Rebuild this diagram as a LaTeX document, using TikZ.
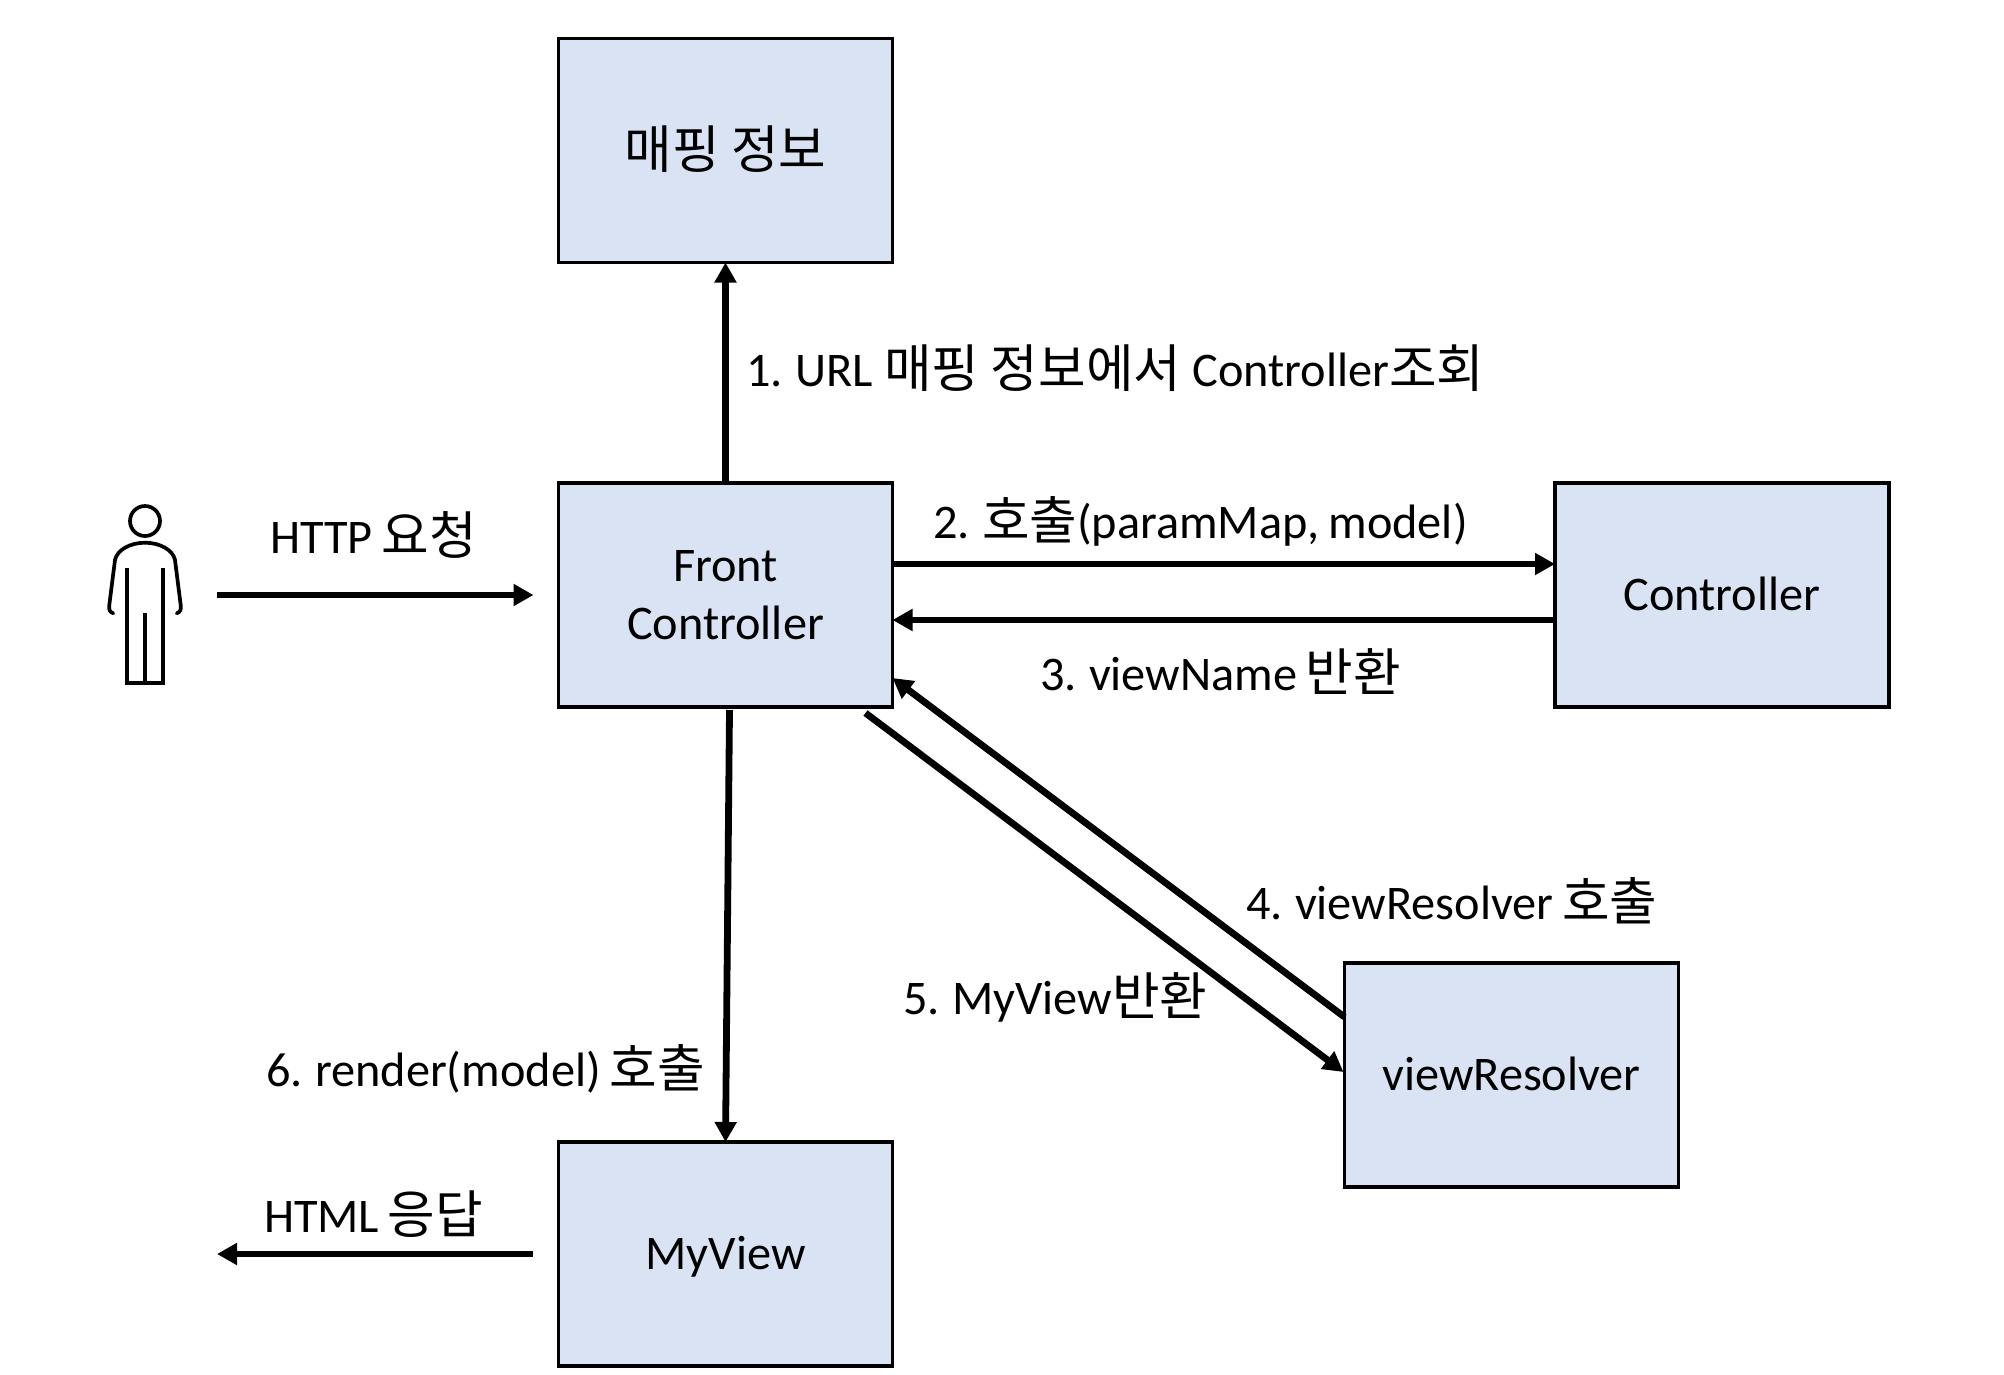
\documentclass[tikz,border=0pt]{standalone}
\usepackage{fontspec}
\setmainfont[WordSpace=0.8]{Carlito}
\newfontfamily\krf{Noto Sans CJK KR}
\usetikzlibrary{arrows.meta}
\newcommand{\kr}[1]{\raisebox{-1.5pt}{\krf\fontsize{51.7}{58}\selectfont #1}}
\definecolor{boxfill}{HTML}{DAE3F3}
\tikzset{
  box/.style={draw=black,fill=boxfill,line width=3.2pt,minimum width=334pt,minimum height=224pt,inner sep=0pt,outer sep=0pt,align=center,text height=38pt,text depth=8pt,font=\fontsize{48.3}{58}\selectfont},
  lbl/.style={anchor=base west,inner sep=0pt,outer sep=0pt,font=\fontsize{48.3}{58}\selectfont},
  conn/.style={line width=6.8pt,-{Triangle[length=20pt,width=21pt]},shorten >=0pt},
  figure/.style={line width=3.7pt,line cap=round,line join=round},
  figureb/.style={line width=3.7pt,line cap=butt,line join=miter}
}
\begin{document}
\begin{tikzpicture}[x=1pt,y=-1pt]
\useasboundingbox (0,0) rectangle (2004,1374);
\fill[white] (0,0) rectangle (2004,1374);
\node[box,text height=44pt] (map) at (725.5,150.5) {{\krf\fontsize{51.7}{58}\selectfont 매핑 정보}};
\node[box,text height=,text depth=] (front) at (725.5,595) {Front\\Controller};
\node[box] (ctrl) at (1722,595) {Controller};
\node[box] (vr) at (1511.5,1075) {viewResolver};
\node[box] (view) at (725.5,1254) {MyView};
\coordinate (reqstart) at (217,595);
\coordinate (respend) at (217,1254);
\draw[conn] (front.north) -- (map.south);
\draw[conn] ([yshift=31pt]front.east) -- ([yshift=31pt]ctrl.west);
\draw[conn] ([yshift=-25pt]ctrl.west) -- ([yshift=-25pt]front.east);
\draw[conn] ([yshift=58pt]vr.west) -- ([yshift=29pt]front.south east);
\draw[conn] ([xshift=-27pt,yshift=-6pt]front.south east) -- ([xshift=-1pt,yshift=3pt]vr.west);
\draw[conn] ([xshift=4pt,yshift=-3pt]front.south) -- (view.north);
\draw[conn] (reqstart) -- ([xshift=-25pt]front.west);
\draw[conn] ([xshift=-26pt]view.west) -- (respend);
\node[lbl] (l1) at (746,386) {1. URL\kern3pt{} \kr{매핑 정보에서}\kern2.5pt{} Controller\kr{조회}};
\node[lbl] (l2) at (933,538) {2. \kr{호출}(paramMap, model)};
\node[lbl] (l3) at (1040,690) {3. viewName \kr{반환}};
\node[lbl] (l4) at (1246,919) {4. viewResolver \kr{호출}};
\node[lbl] (l5) at (903,1014) {5. MyView\kr{반환}};
\node[lbl] (l6) at (266,1086) {6. render(model) \kr{호출}};
\node[lbl] (l7) at (270,553) {HTTP \kr{요청}};
\node[lbl] (l8) at (264,1232) {HTML \kr{응답}};
% person
\draw[figure] (145,521) circle (15);
\draw[figure] (113.3,613.3) .. controls (110,612) and (108.5,610) .. (109.3,605) -- (115,560) .. controls (117,550) and (130,542.7) .. (145,542.7) .. controls (160,542.7) and (173,550) .. (175,560) -- (180.7,605) .. controls (181.5,610) and (180,612) .. (176.7,613.3);
\draw[figureb] (127,568) -- (127,682.7) -- (163,682.7) -- (163,568);
\draw[figureb] (145,613.3) -- (145,682.7);
\end{tikzpicture}
\end{document}
